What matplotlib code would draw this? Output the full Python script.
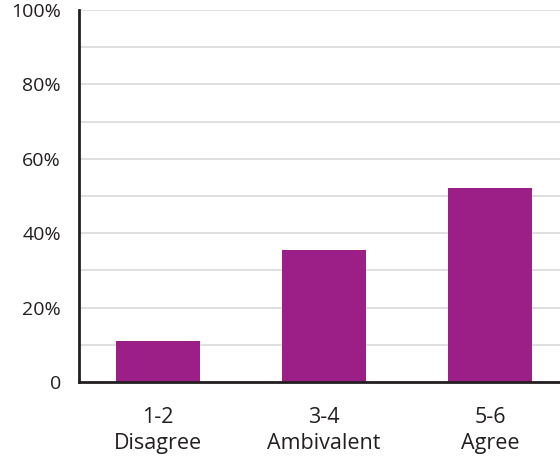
import numpy as np
import matplotlib
matplotlib.use('Agg')
import matplotlib.pyplot as plt
from matplotlib.ticker import MultipleLocator, FuncFormatter

categories = ['1-2\nDisagree', '3-4\nAmbivalent', '5-6\nAgree']
values = [11, 35.5, 52.2]
y_ticks = [0, 20, 40, 60, 80, 100]

plt.rcParams['font.family'] = ['Open Sans', 'DejaVu Sans']
text_color = '#231f20'

fig = plt.figure(figsize=(5.6, 4.59), dpi=100)
ax = fig.add_axes([0.141, 0.168, 0.859, 0.81])

x = np.arange(len(categories))
ax.bar(x, values, width=0.506, color='#9c1f87', zorder=3)

ax.set_xlim(-0.476, 2.42)
ax.set_ylim(0, 100)
ax.set_yticks(y_ticks)
ax.yaxis.set_minor_locator(MultipleLocator(10))
ax.yaxis.set_major_formatter(FuncFormatter(lambda v, p: '0' if v == 0 else '%d%%' % v))
ax.grid(axis='y', which='both', color='#d9d9d9', linewidth=1.2, zorder=0)
ax.set_xticks(x)
ax.set_xticklabels(categories, linespacing=1.3)

ax.tick_params(axis='y', which='both', length=0, pad=13, labelsize=14, labelcolor=text_color)
ax.tick_params(axis='x', length=0, pad=18, labelsize=15.5, labelcolor=text_color)

for s in ['top', 'right']:
    ax.spines[s].set_visible(False)
for s in ['left', 'bottom']:
    ax.spines[s].set_color(text_color)
    ax.spines[s].set_linewidth(2)
    ax.spines[s].set_zorder(4)

fig.savefig('out.png', dpi=100)
